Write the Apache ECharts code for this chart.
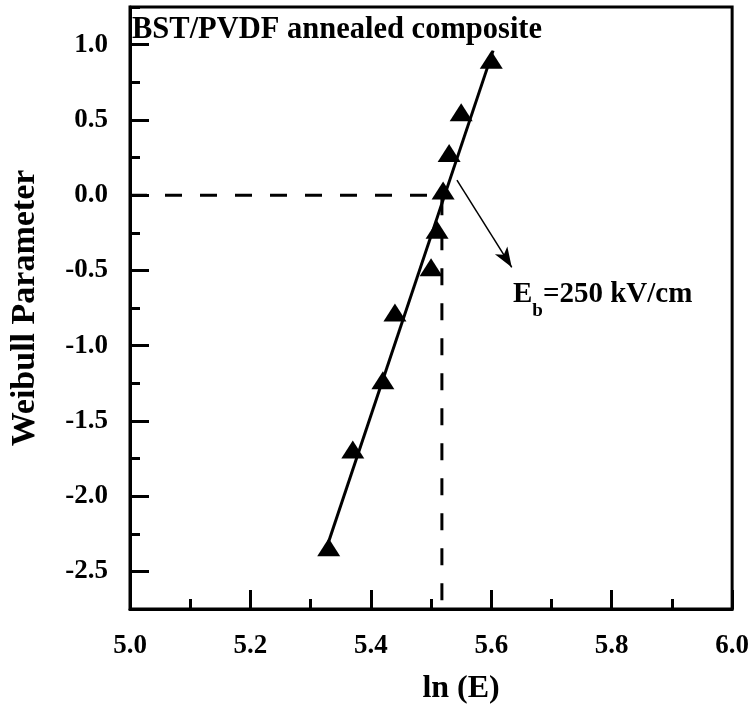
<!DOCTYPE html>
<html>
<head>
<meta charset="utf-8">
<script src="https://cdn.jsdelivr.net/npm/echarts@6/dist/echarts.min.js"></script>
<style>html,body{margin:0;padding:0;background:#fff}#c{width:752px;height:710px}</style>
</head>
<body>
<div id="c"></div>
<script>
// ---- data ----
const lnE = [5.33, 5.37, 5.42, 5.44, 5.50, 5.51, 5.52, 5.53, 5.55, 5.60];
const weibull = [-2.34, -1.69, -1.23, -0.78, -0.48, -0.23, 0.03, 0.28, 0.55, 0.90];
const fitX = [5.326, 5.603];
const fitY = [-2.35, 0.96];
const breakdownLnE = 5.518;       // ln(Eb) where fit crosses 0
const guideX = [5.0, breakdownLnE, breakdownLnE];
const guideY = [0, 0, -2.75];
const arrowFrom = [5.543, 0.10];
const arrowTo = [5.634, -0.48];
const xTicks = [5.0, 5.2, 5.4, 5.6, 5.8, 6.0];
const yMajorTicks = [-2.5, -2.0, -1.5, -1.0, -0.5, 0.0, 0.5, 1.0];
const titleText = 'BST/PVDF annealed composite';
const xName = 'ln (E)';
const yName = 'Weibull Parameter';

const FONT = '"Liberation Serif", "Times New Roman", serif';
const chart = echarts.init(document.getElementById('c'), null, {renderer: 'canvas'});

const yMin = -2.75, yMax = 1.25;

const option = {
  backgroundColor: '#ffffff',
  animation: false,
  title: {
    text: titleText, left: 132, top: 15, padding: 0,
    textStyle: {fontFamily: FONT, fontWeight: 'bold', fontSize: 30.5, color: '#000'}
  },
  grid: {left: 128, right: 19, top: 7, bottom: 99, show: true, borderColor: '#000', borderWidth: 3, backgroundColor: 'transparent'},
  xAxis: {
    type: 'value', min: xTicks[0], max: xTicks[xTicks.length - 1], interval: 0.2,
    name: xName, nameLocation: 'middle', nameGap: 64,
    nameTextStyle: {fontFamily: FONT, fontWeight: 'bold', fontSize: 32, color: '#000', padding: [0, 0, 0, 60]},
    axisLine: {show: true, onZero: false, lineStyle: {color: '#000', width: 3}},
    axisTick: {show: true, inside: true, length: 19, lineStyle: {color: '#000', width: 3}},
    minorTick: {show: true, splitNumber: 2, length: 10, lineStyle: {color: '#000', width: 3}},
    splitLine: {show: false},
    axisLabel: {fontFamily: FONT, fontWeight: 'bold', fontSize: 27, color: '#000', margin: 24,
      formatter: v => v.toFixed(1)}
  },
  yAxis: [{
    type: 'value', min: yMin, max: yMax, interval: 0.25,
    name: yName, nameLocation: 'middle', nameGap: 88,
    nameTextStyle: {fontFamily: FONT, fontWeight: 'bold', fontSize: 34, color: '#000'},
    axisLine: {show: true, onZero: false, lineStyle: {color: '#000', width: 3}},
    axisTick: {show: true, inside: true, length: 10, lineStyle: {color: '#000', width: 3}},
    splitLine: {show: false},
    axisLabel: {fontFamily: FONT, fontWeight: 'bold', fontSize: 27, color: '#000', margin: 22,
      formatter: v => (Math.abs(v * 2 - Math.round(v * 2)) < 1e-6 && v > yMin + 1e-6 && v < yMax - 1e-6) ? v.toFixed(1) : ''}
  }, {
    type: 'value', min: yMin, max: yMax, position: 'left', offset: 0,
    axisLine: {show: false, onZero: false},
    axisTick: {show: true, inside: true, length: 19, customValues: yMajorTicks, lineStyle: {color: '#000', width: 3}},
    axisLabel: {show: false},
    splitLine: {show: false}
  }],
  series: [
    {
      type: 'line', name: 'guide', data: guideX.map((x, i) => [x, guideY[i]]),
      showSymbol: false, symbol: 'none', silent: true,
      lineStyle: {color: '#000', width: 3, type: [17, 18]}, z: 2
    },
    {
      type: 'line', name: 'fit', data: fitX.map((x, i) => [x, fitY[i]]),
      showSymbol: false, symbol: 'none', silent: true,
      lineStyle: {color: '#000', width: 3}, z: 3,
      markLine: {
        silent: true, symbol: ['none', 'arrow'], symbolSize: [11, 20],
        label: {show: false},
        lineStyle: {color: '#000', width: 1.5, type: 'solid'},
        data: [[{coord: arrowFrom}, {coord: arrowTo}]]
      }
    },
    {
      type: 'scatter', name: 'data', data: lnE.map((x, i) => [x, weibull[i]]),
      symbol: 'triangle', symbolSize: [23, 18],
      itemStyle: {color: '#000', opacity: 1}, z: 4
    }
  ],
  graphic: [{
    type: 'text', left: 513, top: 280,
    style: {
      text: '{m|E}{s|b}{m|=250 kV/cm}',
      rich: {
        m: {fontFamily: FONT, fontWeight: 'bold', fontSize: 29, lineHeight: 34, verticalAlign: 'top', fill: '#000'},
        s: {fontFamily: FONT, fontWeight: 'bold', fontSize: 19, lineHeight: 19, padding: [22, 0, 0, 0], verticalAlign: 'top', fill: '#000'}
      }
    }
  }]
};
chart.setOption(option);
</script>
</body>
</html>
